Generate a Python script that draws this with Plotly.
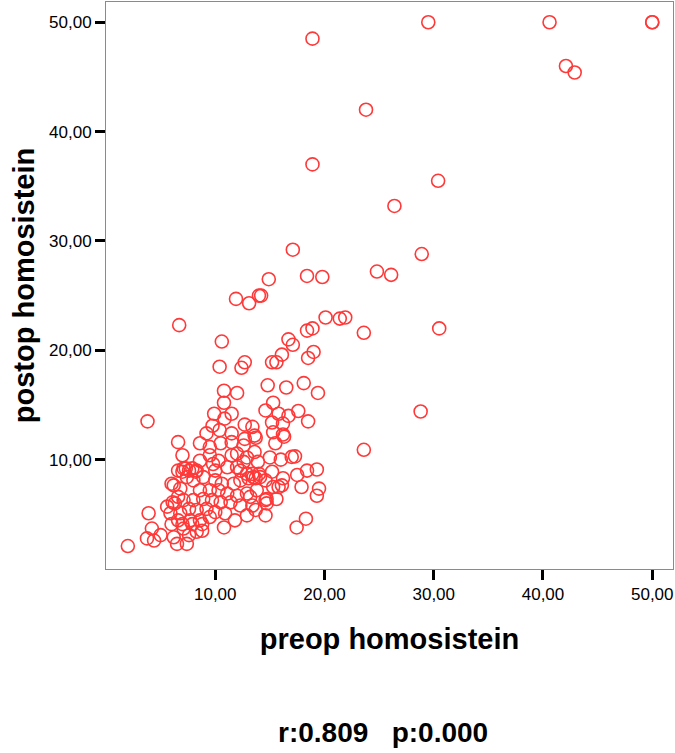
import plotly.graph_objects as go

preop = [50.0, 40.6, 29.5, 18.9, 42.1, 42.9, 23.8, 18.9, 30.4, 26.4, 17.1, 28.9, 18.4, 19.8, 14.9, 24.8, 26.1,
         11.9, 13.1, 14.0, 14.2, 6.7, 20.1, 21.4, 21.9, 30.5, 23.6, 18.4, 18.9, 10.6, 16.7, 17.1, 16.1, 19.0,
         18.5, 15.2, 15.6, 12.7, 12.4, 10.4, 28.8, 23.6,
         14.8, 16.5, 18.1, 19.4, 10.8, 12.0, 10.8, 15.3, 14.6, 15.8, 16.7, 17.6, 18.5, 9.9, 11.5, 10.85, 9.75,
         12.7, 13.4, 15.2, 16.2, 15.3, 16.2, 13.6, 9.2, 10.4, 11.5, 3.8, 6.6, 12.7, 13.7, 15.5, 16.3, 8.6, 9.5,
         10.5, 11.5, 12.6, 13.6, 15.0, 16.0, 17.0, 17.3, 7.0, 9.5, 10.3, 11.5, 12.0, 12.6, 12.9, 13.9, 8.6, 7.9,
         6.6, 7.1, 7.6, 8.3, 9.8, 10.0, 11.1, 12.0, 12.3, 12.9, 13.5, 14.0, 14.6, 15.2, 16.2, 15.3, 15.8, 16.1,
         14.7, 15.6, 17.5, 18.4, 19.3, 17.9, 19.5, 19.3, 6.0, 6.8, 8.0, 8.9, 10.0, 10.6, 11.7, 12.3, 13.4, 13.7,
         14.1, 13.05, 8.6, 9.5, 10.3, 11.1, 12.0, 12.9, 13.8, 7.1, 8.0, 8.9, 9.7, 10.5, 11.4, 12.3, 13.4, 13.2,
         14.6, 14.7, 5.6, 6.3, 5.9, 6.8, 7.6, 8.3, 9.2, 10.0, 10.9, 11.8, 10.8, 9.5, 8.6, 7.7, 6.6, 6.0, 3.9,
         4.2, 3.75, 4.4, 5.0, 6.2, 6.5, 7.4, 7.6, 8.3, 8.8, 7.1, 2.0, 17.45, 18.3, 14.6, 13.7, 12.9, 7.0, 7.9,
         8.8, 6.1, 6.6, 6.2, 7.0, 7.3, 8.2, 7.4, 50.0]
postop = [50.0, 50.0, 50.0, 48.5, 46.0, 45.4, 42.0, 37.0, 35.5, 33.2, 29.2, 28.8, 26.8, 26.7, 26.5, 27.2, 26.9,
          24.7, 24.3, 25.0, 25.0, 22.3, 23.0, 22.9, 23.0, 22.0, 21.6, 21.8, 22.0, 20.8, 21.0, 20.5, 19.6, 19.85,
          19.3, 18.9, 18.9, 18.9, 18.4, 18.5, 14.4, 10.9,
          16.8, 16.6, 17.0, 16.1, 16.3, 16.1, 15.2, 15.2, 14.5, 14.2, 14.0, 14.45, 13.5, 14.2, 14.2, 13.75, 13.1,
          13.2, 13.0, 13.4, 13.3, 12.5, 12.3, 12.2, 12.4, 12.7, 12.4, 13.5, 11.6, 11.9, 12.0, 11.5, 12.1, 11.5, 11.15,
          11.5, 11.6, 11.3, 10.7, 10.2, 10.0, 10.25, 10.3, 10.4, 10.4, 9.9, 10.4, 10.55, 9.8, 10.2, 9.8, 9.9, 9.2,
          9.0, 9.2, 9.0, 9.0, 9.6, 9.0, 9.3, 9.3, 9.0, 8.7, 8.4, 8.7, 8.1, 8.9, 8.3, 7.5, 7.5, 7.65,
          6.4, 6.4, 8.6, 9.0, 9.1, 7.5, 7.35, 6.7, 7.8, 7.35, 8.1, 8.4, 8.1, 7.8, 7.8, 8.1, 8.7, 8.3,
          8.4, 8.3, 7.2, 7.2, 7.2, 6.9, 6.7, 6.9, 7.2, 6.3, 6.3, 6.4, 6.3, 6.1, 6.1, 5.8, 5.8, 6.6,
          6.3, 6.0, 5.7, 6.0, 5.1, 5.1, 5.5, 5.4, 5.5, 5.2, 5.1, 4.45, 3.8, 4.75, 4.45, 4.45, 4.45, 4.1, 5.1,
          3.7, 2.8, 2.6, 3.1, 2.9, 2.3, 2.3, 3.1, 3.4, 3.5, 3.7, 2.1, 3.8, 4.6, 4.9, 5.4, 4.9, 4.1, 4.1,
          4.1, 6.1, 6.6, 7.65, 8.9, 9.2, 8.9, 8.4, 50.0]

tick_vals = [10, 20, 30, 40, 50]
tick_text = ["10,00", "20,00", "30,00", "40,00", "50,00"]
x_title = "preop homosistein"
y_title = "postop homosistein"
stats_text = "r:0.809   p:0.000"

fig = go.Figure(go.Scatter(
    x=preop, y=postop, mode="markers",
    marker=dict(symbol="circle-open", size=13, color="#ff3838",
                line=dict(width=1.6, color="#ff3838")),
    hoverinfo="x+y", showlegend=False,
))

axis_common = dict(
    showgrid=False, zeroline=False,
    showline=True, linecolor="#8a8a8a", linewidth=1, mirror=True,
    ticks="outside", ticklen=10, tickwidth=3, tickcolor="black",
    tickvals=tick_vals, ticktext=tick_text,
    tickfont=dict(family="Liberation Sans, Arial, sans-serif", size=17, color="black"),
)

fig.update_layout(
    width=675, height=753,
    margin=dict(l=106, r=2, t=2, b=184),
    plot_bgcolor="white", paper_bgcolor="white",
    xaxis=dict(range=[0, 51.9], **axis_common,
               title=dict(text=x_title, standoff=25,
                          font=dict(family="Liberation Sans, Arial, sans-serif", size=29, color="black", weight="bold"))),
    yaxis=dict(range=[0, 51.85], **axis_common,
               title=dict(text=y_title, standoff=5,
                          font=dict(family="Liberation Sans, Arial, sans-serif", size=29, color="black", weight="bold"))),
    annotations=[dict(text="<b>" + stats_text + "</b>", xref="paper", yref="paper",
                      x=(383 - 106) / 567, y=(569 - 732) / 567, xanchor="center", yanchor="middle",
                      showarrow=False,
                      font=dict(family="Liberation Sans, Arial, sans-serif", size=28, color="black"))],
)

fig.write_html("out.html")
